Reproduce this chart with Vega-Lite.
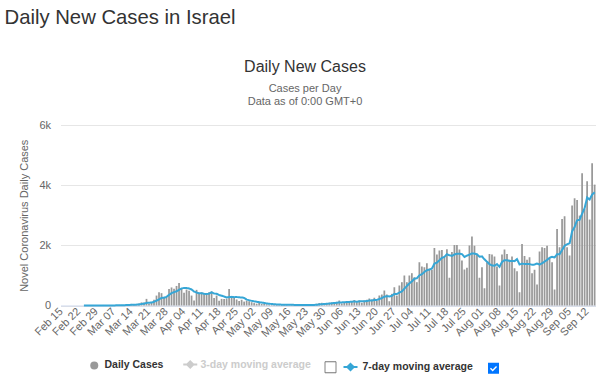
{
  "$schema": "https://vega.github.io/schema/vega-lite/v6.json",
  "autosize": {"type": "pad"},
  "padding": {"left": 4.5, "top": 7, "right": 0, "bottom": 0},
  "background": "#ffffff",
  "config": {"view": {"stroke": null}, "font": "Liberation Sans"},
  "title": {"text": "Daily New Cases in Israel", "anchor": "start", "frame": "group", "dx": -56, "fontSize": 20.3, "font": "Liberation Sans", "fontWeight": "normal", "color": "#333333", "offset": 31},
  "vconcat": [
    {
      "width": 535,
      "height": 180.5,
      "title": {"text": "Daily New Cases", "subtitle": ["Cases per Day", "Data as of 0:00 GMT+0"], "anchor": "middle", "frame": "group", "dx": -23, "fontSize": 16, "fontWeight": "normal", "color": "#333333", "subtitleFontSize": 11, "subtitleColor": "#666666", "subtitlePadding": 8, "subtitleLineHeight": 13, "offset": 12},
      "data": {"values": [
        {"day":"Feb 15","cases":0},{"day":"Feb 16","cases":0},{"day":"Feb 17","cases":0},{"day":"Feb 18","cases":0},{"day":"Feb 19","cases":0},{"day":"Feb 20","cases":0},{"day":"Feb 21","cases":1},{"day":"Feb 22","cases":0},{"day":"Feb 23","cases":1},{"day":"Feb 24","cases":0},{"day":"Feb 25","cases":0},{"day":"Feb 26","cases":1},{"day":"Feb 27","cases":0},{"day":"Feb 28","cases":1},{"day":"Feb 29","cases":2},
        {"day":"Mar 01","cases":3},{"day":"Mar 02","cases":2},{"day":"Mar 03","cases":3},{"day":"Mar 04","cases":5},{"day":"Mar 05","cases":2},{"day":"Mar 06","cases":4},{"day":"Mar 07","cases":4},{"day":"Mar 08","cases":18},{"day":"Mar 09","cases":11},{"day":"Mar 10","cases":19},{"day":"Mar 11","cases":17},{"day":"Mar 12","cases":22},{"day":"Mar 13","cases":33},{"day":"Mar 14","cases":52},{"day":"Mar 15","cases":20},{"day":"Mar 16","cases":42},{"day":"Mar 17","cases":69},{"day":"Mar 18","cases":103},{"day":"Mar 19","cases":102},{"day":"Mar 20","cases":220},{"day":"Mar 21","cases":60},{"day":"Mar 22","cases":110},{"day":"Mar 23","cases":190},{"day":"Mar 24","cases":330},{"day":"Mar 25","cases":440},{"day":"Mar 26","cases":410},{"day":"Mar 27","cases":260},{"day":"Mar 28","cases":280},{"day":"Mar 29","cases":550},{"day":"Mar 30","cases":600},{"day":"Mar 31","cases":560},
        {"day":"Apr 01","cases":650},{"day":"Apr 02","cases":750},{"day":"Apr 03","cases":560},{"day":"Apr 04","cases":420},{"day":"Apr 05","cases":530},{"day":"Apr 06","cases":490},{"day":"Apr 07","cases":330},{"day":"Apr 08","cases":170},{"day":"Apr 09","cases":520},{"day":"Apr 10","cases":390},{"day":"Apr 11","cases":440},{"day":"Apr 12","cases":390},{"day":"Apr 13","cases":410},{"day":"Apr 14","cases":440},{"day":"Apr 15","cases":470},{"day":"Apr 16","cases":250},{"day":"Apr 17","cases":330},{"day":"Apr 18","cases":160},{"day":"Apr 19","cases":220},{"day":"Apr 20","cases":220},{"day":"Apr 21","cases":230},{"day":"Apr 22","cases":550},{"day":"Apr 23","cases":300},{"day":"Apr 24","cases":250},{"day":"Apr 25","cases":200},{"day":"Apr 26","cases":150},{"day":"Apr 27","cases":190},{"day":"Apr 28","cases":130},{"day":"Apr 29","cases":160},{"day":"Apr 30","cases":140},
        {"day":"May 01","cases":110},{"day":"May 02","cases":80},{"day":"May 03","cases":60},{"day":"May 04","cases":90},{"day":"May 05","cases":50},{"day":"May 06","cases":60},{"day":"May 07","cases":40},{"day":"May 08","cases":30},{"day":"May 09","cases":15},{"day":"May 10","cases":20},{"day":"May 11","cases":35},{"day":"May 12","cases":25},{"day":"May 13","cases":30},{"day":"May 14","cases":25},{"day":"May 15","cases":20},{"day":"May 16","cases":10},{"day":"May 17","cases":15},{"day":"May 18","cases":20},{"day":"May 19","cases":25},{"day":"May 20","cases":30},{"day":"May 21","cases":20},{"day":"May 22","cases":15},{"day":"May 23","cases":10},{"day":"May 24","cases":15},{"day":"May 25","cases":20},{"day":"May 26","cases":30},{"day":"May 27","cases":60},{"day":"May 28","cases":80},{"day":"May 29","cases":90},{"day":"May 30","cases":50},{"day":"May 31","cases":60},
        {"day":"Jun 01","cases":90},{"day":"Jun 02","cases":100},{"day":"Jun 03","cases":115},{"day":"Jun 04","cases":120},{"day":"Jun 05","cases":165},{"day":"Jun 06","cases":70},{"day":"Jun 07","cases":100},{"day":"Jun 08","cases":145},{"day":"Jun 09","cases":125},{"day":"Jun 10","cases":140},{"day":"Jun 11","cases":185},{"day":"Jun 12","cases":110},{"day":"Jun 13","cases":165},{"day":"Jun 14","cases":90},{"day":"Jun 15","cases":170},{"day":"Jun 16","cases":190},{"day":"Jun 17","cases":230},{"day":"Jun 18","cases":200},{"day":"Jun 19","cases":255},{"day":"Jun 20","cases":150},{"day":"Jun 21","cases":330},{"day":"Jun 22","cases":365},{"day":"Jun 23","cases":500},{"day":"Jun 24","cases":365},{"day":"Jun 25","cases":145},{"day":"Jun 26","cases":387},{"day":"Jun 27","cases":610},{"day":"Jun 28","cases":330},{"day":"Jun 29","cases":664},{"day":"Jun 30","cases":775},
        {"day":"Jul 01","cases":996},{"day":"Jul 02","cases":775},{"day":"Jul 03","cases":996},{"day":"Jul 04","cases":1074},{"day":"Jul 05","cases":941},{"day":"Jul 06","cases":775},{"day":"Jul 07","cases":1440},{"day":"Jul 08","cases":1295},{"day":"Jul 09","cases":1273},{"day":"Jul 10","cases":1406},{"day":"Jul 11","cases":1218},{"day":"Jul 12","cases":1185},{"day":"Jul 13","cases":1915},{"day":"Jul 14","cases":1694},{"day":"Jul 15","cases":1827},{"day":"Jul 16","cases":1849},{"day":"Jul 17","cases":1605},{"day":"Jul 18","cases":1871},{"day":"Jul 19","cases":919},{"day":"Jul 20","cases":1782},{"day":"Jul 21","cases":2015},{"day":"Jul 22","cases":2015},{"day":"Jul 23","cases":1860},{"day":"Jul 24","cases":1494},{"day":"Jul 25","cases":1196},{"day":"Jul 26","cases":1251},{"day":"Jul 27","cases":1993},{"day":"Jul 28","cases":2291},{"day":"Jul 29","cases":1982},{"day":"Jul 30","cases":1716},{"day":"Jul 31","cases":919},
        {"day":"Aug 01","cases":1273},{"day":"Aug 02","cases":576},{"day":"Aug 03","cases":1440},{"day":"Aug 04","cases":1716},{"day":"Aug 05","cases":1694},{"day":"Aug 06","cases":1627},{"day":"Aug 07","cases":1295},{"day":"Aug 08","cases":664},{"day":"Aug 09","cases":1694},{"day":"Aug 10","cases":1860},{"day":"Aug 11","cases":1716},{"day":"Aug 12","cases":1517},{"day":"Aug 13","cases":1627},{"day":"Aug 14","cases":1240},{"day":"Aug 15","cases":1140},{"day":"Aug 16","cases":443},{"day":"Aug 17","cases":2048},{"day":"Aug 18","cases":1649},{"day":"Aug 19","cases":1517},{"day":"Aug 20","cases":1605},{"day":"Aug 21","cases":1074},{"day":"Aug 22","cases":1185},{"day":"Aug 23","cases":697},{"day":"Aug 24","cases":1793},{"day":"Aug 25","cases":1937},{"day":"Aug 26","cases":1915},{"day":"Aug 27","cases":1982},{"day":"Aug 28","cases":1583},{"day":"Aug 29","cases":1440},{"day":"Aug 30","cases":531},{"day":"Aug 31","cases":2546},
        {"day":"Sep 01","cases":1937},{"day":"Sep 02","cases":2878},{"day":"Sep 03","cases":2967},{"day":"Sep 04","cases":1937},{"day":"Sep 05","cases":1660},{"day":"Sep 06","cases":3321},{"day":"Sep 07","cases":3564},{"day":"Sep 08","cases":3509},{"day":"Sep 09","cases":2989},{"day":"Sep 10","cases":4395},{"day":"Sep 11","cases":3210},{"day":"Sep 12","cases":4129},{"day":"Sep 13","cases":2856},{"day":"Sep 14","cases":4727},{"day":"Sep 15","cases":4018}
      ]},
      "encoding": {
        "x": {
          "field": "day", "type": "ordinal", "sort": null,
          "scale": {"type": "band", "paddingInner": 0.3, "paddingOuter": 0},
          "axis": {
            "title": null,
            "values": ["Feb 15","Feb 22","Feb 29","Mar 07","Mar 14","Mar 21","Mar 28","Apr 04","Apr 11","Apr 18","Apr 25","May 02","May 09","May 16","May 23","May 30","Jun 06","Jun 13","Jun 20","Jun 27","Jul 04","Jul 11","Jul 18","Jul 25","Aug 01","Aug 08","Aug 15","Aug 22","Aug 29","Sep 05","Sep 12"],
            "labelAngle": -45, "labelAlign": "right", "labelBaseline": "middle",
            "labelOverlap": false, "ticks": false, "grid": false,
            "domainColor": "#ccd6eb", "domainWidth": 1,
            "labelColor": "#666666", "labelFontSize": 11, "labelFont": "Liberation Sans", "labelPadding": 4
          }
        }
      },
      "layer": [
        {
          "mark": {"type": "bar", "stroke": null},
          "encoding": {
            "y": {
              "field": "cases", "type": "quantitative",
              "scale": {"domain": [0, 6000], "nice": false},
              "axis": {
                "values": [0, 2000, 4000, 6000],
                "labelExpr": "datum.value == 0 ? '0' : (datum.value / 1000) + 'k'",
                "domain": false, "ticks": false,
                "gridColor": "#e6e6e6", "gridWidth": 1,
                "labelColor": "#666666", "labelFontSize": 11, "labelFont": "Liberation Sans", "labelPadding": 10,
                "title": "Novel Coronavirus Daily Cases", "titleColor": "#666666", "titleFontSize": 11, "titleFont": "Liberation Sans", "titleFontWeight": "normal", "titlePadding": 9
              }
            },
            "color": {
              "datum": "Daily Cases", "type": "nominal",
              "scale": {
                "domain": ["Daily Cases", "3-day moving average"],
                "range": ["#999999", "#cccccc"]
              },
              "legend": {
                "orient": "none", "legendX": 28.5, "legendY": 234, "direction": "horizontal",
                "title": null,
                "labelFont": "Liberation Sans", "labelFontSize": 10.5, "labelFontWeight": "bold", "labelColor": "#333333",
                "symbolSize": 196, "labelOffset": 5, "columnPadding": 15,
                "encoding": {
                  "symbols": {
                    "shape": {"value": {"expr": "datum.value == 'Daily Cases' ? 'circle' : 'M-1,0L1,0M0,-0.45L0.45,0L0,0.45L-0.45,0Z'"}},
                    "size": {"value": {"expr": "datum.value == 'Daily Cases' ? 64 : 196"}},
                    "fill": {"value": {"expr": "datum.value == 'Daily Cases' ? '#8f8f8f' : '#cccccc'"}},
                    "stroke": {"value": {"expr": "datum.value == 'Daily Cases' ? '#8f8f8f' : '#cccccc'"}},
                    "strokeWidth": {"value": {"expr": "datum.value == 'Daily Cases' ? 0 : 2"}},
                    "opacity": {"value": 1},
                    "fillOpacity": {"value": 1}
                  },
                  "labels": {
                    "fill": {"value": {"expr": "datum.value == '3-day moving average' ? '#cccccc' : '#333333'"}}
                  }
                }
              }
            }
          }
        },
        {
          "transform": [
            {"window": [{"op": "mean", "field": "cases", "as": "ma7"}, {"op": "row_number", "as": "n"}], "frame": [-6, 0]},
            {"filter": "datum.n >= 10"}
          ],
          "mark": {"type": "line", "strokeWidth": 2, "interpolate": "linear"},
          "encoding": {
            "y": {"field": "ma7", "type": "quantitative"},
            "stroke": {
              "datum": "7-day moving average", "type": "nominal",
              "scale": {"domain": ["7-day moving average"], "range": ["#36a6d6"]},
              "legend": {
                "orient": "none", "legendX": 282, "legendY": 234, "direction": "horizontal",
                "title": null,
                "labelFont": "Liberation Sans", "labelFontSize": 10.5, "labelFontWeight": "bold", "labelColor": "#333333",
                "symbolSize": 196, "labelOffset": 4,
                "encoding": {
                  "symbols": {
                    "shape": {"value": "M-1,0L1,0M0,-0.45L0.45,0L0,0.45L-0.45,0Z"},
                    "size": {"value": 196},
                    "fill": {"value": "#36a6d6"},
                    "stroke": {"value": "#36a6d6"},
                    "strokeWidth": {"value": 2},
                    "opacity": {"value": 1},
                    "fillOpacity": {"value": 1}
                  }
                }
              }
            },
            "strokeDash": {
              "datum": "cb1", "type": "nominal",
              "scale": {"domain": ["cb1", "cb2"], "range": [[1, 0], [1, 0]]},
              "legend": {
                "orient": "none", "legendX": 265, "legendY": 237, "direction": "horizontal",
                "title": null,
                "symbolSize": 121, "labelOffset": 0, "columnPadding": 149,
                "labelExpr": "''",
                "encoding": {
                  "symbols": {
                    "shape": {"value": {"expr": "datum.value == 'cb1' ? 'square' : 'M-1,-1L1,-1L1,1L-1,1Z M-0.46,-0.09L-0.64,0.09L-0.15,0.58L0.64,-0.21L0.46,-0.39L-0.15,0.22Z'"}},
                    "size": {"value": 121},
                    "fill": {"value": {"expr": "datum.value == 'cb1' ? '#ffffff' : '#0075ff'"}},
                    "stroke": {"value": {"expr": "datum.value == 'cb1' ? '#767676' : '#0075ff'"}},
                    "strokeWidth": {"value": {"expr": "datum.value == 'cb1' ? 1 : 0"}},
                    "strokeDash": {"value": [1, 0]},
                    "opacity": {"value": 1},
                    "fillOpacity": {"value": 1}
                  }
                }
              }
            }
          }
        }
      ]
    }
  ]
}
